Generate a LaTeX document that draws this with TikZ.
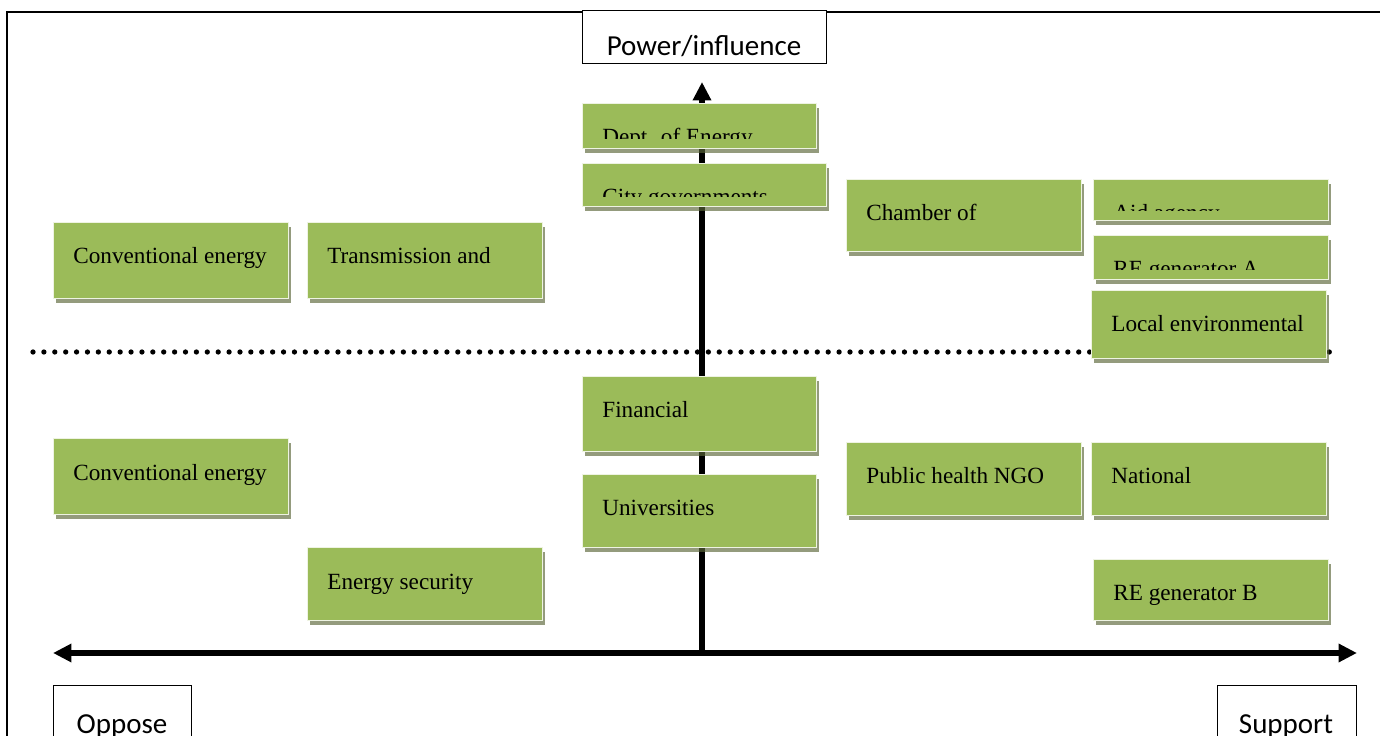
\documentclass[tikz,border=0pt]{standalone}
\usepackage{fontspec}
\setmainfont{Liberation Serif}
\newfontfamily\axisfont{Carlito}
\definecolor{stkgreen}{HTML}{9BBB59}
\definecolor{stkedge}{HTML}{EEF3E2}
\definecolor{stkshadow}{HTML}{5A6638}
\usepackage{tikz}
\usetikzlibrary{arrows.meta}
\tikzset{
  stake/.style={draw=stkedge, fill=stkgreen, line width=0.6pt, anchor=north west, inner sep=0pt},
  stakeshadow/.style={fill=stkshadow, fill opacity=0.65},
  staketext/.style={anchor=base west, inner sep=0pt, font=\fontsize{13.2pt}{15pt}\selectfont},
  axisbox/.style={draw, fill=white, line width=0.8pt, anchor=north west, inner sep=0pt},
  axislabel/.style={anchor=base, inner sep=0pt, font=\axisfont\fontsize{16.5pt}{19pt}\selectfont},
  axisline/.style={line width=3pt},
  axistip/.tip={Triangle[length=10.5pt, width=10pt]}
}
% name, left, top, width, height, text
\newcommand{\stakebox}[6]{%
  \fill[stakeshadow] (#2+3,#3+5) rectangle ++(#4,#5);
  \node[stake, minimum width=#4*0.02cm, minimum height=#5*0.02cm] (#1) at (#2,#3) {};
  \begin{scope}
    \clip (#2,#3) rectangle ++(#4,#5-9);
    \node[staketext] (#1-t) at (#2+20,#3+42) {#6};
  \end{scope}
}

\begin{document}
\begin{tikzpicture}[x=0.02cm, y=-0.02cm]
  \useasboundingbox (0,0) rectangle (1380,736);

  \draw[line width=0.8pt] (7,760) -- (7,12) -- (1400,12);

  \node[axisbox, minimum width=244*0.02cm, minimum height=53*0.02cm] (power) at (582,10) {};
  \node[axislabel] (power-t) at (704,56) {Power/influence};
  \node[axisbox, minimum width=138*0.02cm, minimum height=80*0.02cm] (oppose) at (53,685) {};
  \node[axislabel] (oppose-t) at (122,733) {Oppose};
  \node[axisbox, minimum width=139*0.02cm, minimum height=80*0.02cm] (support) at (1217,685) {};
  \node[axislabel] (support-t) at (1286,733) {Support};

  \coordinate (dotl) at (33,352);
  \coordinate (dotr) at (1335,352);
  \draw[line width=3pt, line cap=round, dash pattern=on 0pt off 6.2pt] (dotl) -- (dotr);

  \coordinate (origin) at (702,653);
  \coordinate (ytop) at (702,82);
  \coordinate (xleft) at (53,653);
  \coordinate (xright) at (1357,653);
  \draw[axisline, axistip-axistip] (xleft) -- (xright);
  \draw[axisline, -axistip] (origin) -- (ytop);

  \stakebox{dept}{582}{103}{234}{45}{Dept. of Energy}
  \stakebox{city}{582}{163}{244}{43}{City governments}
  \stakebox{chamber}{846}{179}{235}{72}{Chamber of}
  \stakebox{aid}{1093}{179}{235}{41}{Aid agency}
  \stakebox{rea}{1093}{235}{235}{44}{RE generator A}
  \stakebox{localenv}{1091}{290}{235}{68}{Local environmental}
  \stakebox{convhigh}{53}{222}{235}{76}{Conventional energy}
  \stakebox{trans}{307}{222}{235}{76}{Transmission and}
  \stakebox{financial}{582}{376}{234}{75}{Financial}
  \stakebox{univ}{582}{474}{234}{73}{Universities}
  \stakebox{convlow}{53}{438}{235}{76}{Conventional energy}
  \stakebox{health}{846}{442}{235}{73}{Public health NGO}
  \stakebox{national}{1091}{442}{235}{73}{National}
  \stakebox{security}{307}{547}{235}{73}{Energy security}
  \stakebox{reb}{1093}{559}{235}{61}{RE generator B}
\end{tikzpicture}
\end{document}
